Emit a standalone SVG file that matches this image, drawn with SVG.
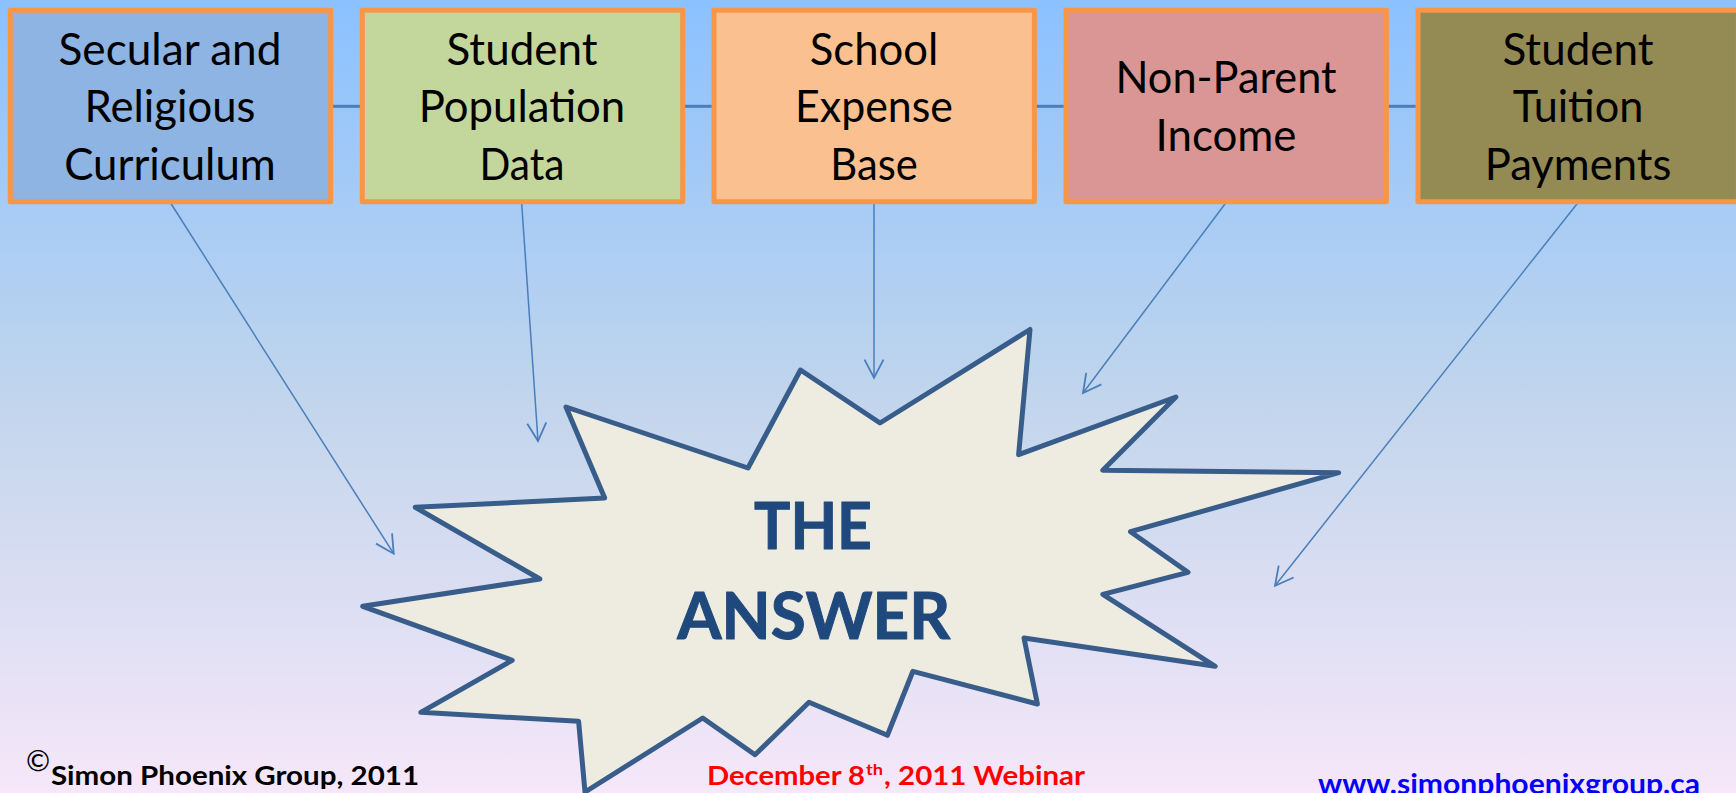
<svg xmlns="http://www.w3.org/2000/svg" width="1736" height="793" viewBox="0 0 1736 793">
<style>
.box{stroke:#f79646;stroke-width:5;stroke-linejoin:round}
.lbl{font-family:Lato,"Open Sans","Liberation Sans",sans-serif;font-size:44px;fill:#000;text-anchor:middle}
.big{font-family:Lato,"Open Sans","Liberation Sans",sans-serif;font-size:64.5px;font-weight:700;fill:#1f497d;stroke:#1f497d;stroke-width:1;stroke-linejoin:round;text-anchor:middle}
.foot{font-family:Lato,"Open Sans","Liberation Sans",sans-serif;font-size:27px;font-weight:700}
.link{stroke:#4a7ebb;stroke-width:3;fill:none}
.arrow{stroke:#4a7ebb;stroke-width:1.5;fill:none;marker-end:url(#open)}
</style>
<defs>
<linearGradient id="bg" x1="0" y1="0" x2="0" y2="1">
<stop offset="0" stop-color="#8bc1ff"/>
<stop offset="0.5" stop-color="#c1d5ec"/>
<stop offset="1" stop-color="#f6e7f9"/>
</linearGradient>
<marker id="open" markerUnits="userSpaceOnUse" markerWidth="24" markerHeight="24" refX="20" refY="12" orient="auto" viewBox="0 0 24 24">
<path d="M2 2.5L20 12L2 21.5" fill="none" stroke="#4a7ebb" stroke-width="1.8"/>
</marker>
</defs>
<rect id="background" width="1736" height="793" fill="url(#bg)"/>
<g id="connectors">
<path class="link" d="M331 106.3H362"/>
<path class="link" d="M683 106.3H714"/>
<path class="link" d="M1034 106.3H1066"/>
<path class="link" d="M1386 106.3H1418"/>
<path class="arrow" d="M170 202L393.7 553.7"/>
<path class="arrow" d="M521.6 202L538 441"/>
<path class="arrow" d="M874 202V377.7"/>
<path class="arrow" d="M1226.5 202L1083 393"/>
<path class="arrow" d="M1578.5 202L1275 585.7"/>
</g>
<g id="node-curriculum">
<rect class="box" x="10.3" y="10.3" width="320.4" height="191.4" fill="#8eb4e3"/>
<text class="lbl" x="170" y="64.5" textLength="223" lengthAdjust="spacingAndGlyphs">Secular and</text>
<text class="lbl" x="170" y="122" textLength="171" lengthAdjust="spacingAndGlyphs">Religious</text>
<text class="lbl" x="170" y="179.7" textLength="211.5" lengthAdjust="spacingAndGlyphs">Curriculum</text>
</g>
<g id="node-population">
<rect class="box" x="362.3" y="10.3" width="320.4" height="191.4" fill="#c3d69b"/>
<text class="lbl" x="522" y="64.5" textLength="151" lengthAdjust="spacingAndGlyphs">Student</text>
<text class="lbl" x="522" y="122" textLength="206.5" lengthAdjust="spacingAndGlyphs">Population</text>
<text class="lbl" x="522" y="179.7" textLength="85" lengthAdjust="spacingAndGlyphs">Data</text>
</g>
<g id="node-expense">
<rect class="box" x="714" y="10.3" width="320.4" height="191.4" fill="#fac090"/>
<text class="lbl" x="874" y="64.5" textLength="128.4" lengthAdjust="spacingAndGlyphs">School</text>
<text class="lbl" x="874" y="122" textLength="158" lengthAdjust="spacingAndGlyphs">Expense</text>
<text class="lbl" x="874" y="179.7" textLength="87.5" lengthAdjust="spacingAndGlyphs">Base</text>
</g>
<g id="node-income">
<rect class="box" x="1066" y="10.3" width="320.4" height="191.4" fill="#d99694"/>
<text class="lbl" x="1226" y="92.8" textLength="221" lengthAdjust="spacingAndGlyphs">Non-Parent</text>
<text class="lbl" x="1226" y="150.6" textLength="141" lengthAdjust="spacingAndGlyphs">Income</text>
</g>
<g id="node-tuition">
<rect class="box" x="1418" y="10.3" width="320.4" height="191.4" fill="#948a54"/>
<text class="lbl" x="1578" y="64.5" textLength="151" lengthAdjust="spacingAndGlyphs">Student</text>
<text class="lbl" x="1578" y="122" textLength="130.7" lengthAdjust="spacingAndGlyphs">Tuition</text>
<text class="lbl" x="1578" y="179.7" textLength="186.6" lengthAdjust="spacingAndGlyphs">Payments</text>
</g>
<g id="node-answer">
<polygon points="566,407 748,468 800.5,370 880,423 1030,329.5 1018.6,454.7 1175.9,397 1102.8,470.3 1338.7,472.7 1130.5,531.7 1188,572.3 1102.8,594.3 1215.2,666.3 1024,638 1037.4,704 912.9,671.3 887.4,735.3 809,702.3 755,754.7 702.7,718 585,792 578.6,721.3 420.8,712.3 512.2,660.3 362.7,606.3 539.9,579 415.3,507.3 604.7,498" fill="#eeece1" stroke="#385d8a" stroke-width="5" stroke-linejoin="round"/>
<text class="big" x="813" y="549.3" textLength="118" lengthAdjust="spacingAndGlyphs">THE</text>
<text class="big" x="813.7" y="639.3" textLength="273" lengthAdjust="spacingAndGlyphs">ANSWER</text>
</g>
<g id="footer">
<text x="26" y="771" font-family="Lato,'Liberation Sans',sans-serif" font-size="29" fill="#000">©</text>
<text class="foot" x="51" y="784.7" fill="#000" textLength="368" lengthAdjust="spacingAndGlyphs">Simon Phoenix Group, 2011</text>
<text class="foot" x="707" y="784.7" fill="#f00" textLength="158" lengthAdjust="spacingAndGlyphs">December 8</text>
<text class="foot" x="866" y="774.7" fill="#f00" style="font-size:16px" textLength="17" lengthAdjust="spacingAndGlyphs">th</text>
<text class="foot" x="884" y="784.7" fill="#f00" textLength="201" lengthAdjust="spacingAndGlyphs">, 2011 Webinar</text>
<text class="foot" x="1318" y="793.5" fill="#00f" style="font-size:29px" textLength="382" lengthAdjust="spacingAndGlyphs">www.simonphoenixgroup.ca</text>
</g>
</svg>
